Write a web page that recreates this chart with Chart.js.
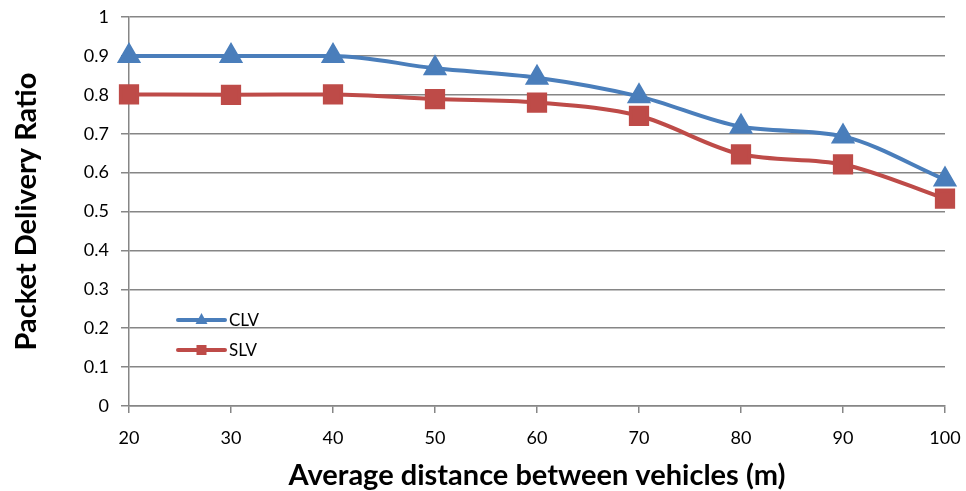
<!DOCTYPE html>
<html>
<head>
<meta charset="utf-8">
<script src="https://cdn.jsdelivr.net/npm/chart.js@4"></script>
<style>
  html, body { margin: 0; padding: 0; background: #fff; }
</style>
</head>
<body>
<canvas id="pdrChart" width="966" height="491"></canvas>
<script>
const distances = ['20', '30', '40', '50', '60', '70', '80', '90', '100'];
const clvValues = [0.90, 0.90, 0.90, 0.868, 0.844, 0.796, 0.718, 0.693, 0.582];
const slvValues = [0.801, 0.800, 0.801, 0.789, 0.780, 0.746, 0.647, 0.621, 0.533];
const seriesNames = ['CLV', 'SLV'];

const FONT = "Lato, 'Open Sans', sans-serif";

// legend drawn inside the plot, like the original
const insideLegend = {
  id: 'insideLegend',
  afterDatasetsDraw(chart) {
    const c = chart.ctx;
    const a = chart.chartArea;
    chart.data.datasets.forEach((ds, i) => {
      const x0 = a.left + 49, x1 = a.left + 96;
      const y = a.top + 303 + i * 30;
      c.save();
      c.strokeStyle = ds.borderColor;
      c.lineWidth = 4;
      c.lineCap = 'round';
      c.beginPath(); c.moveTo(x0, y); c.lineTo(x1, y); c.stroke();
      c.fillStyle = ds.borderColor;
      const mx = (x0 + x1) / 2;
      if (ds.pointStyle === 'triangle') {
        c.beginPath(); c.moveTo(mx, y - 7); c.lineTo(mx + 6, y + 4); c.lineTo(mx - 6, y + 4); c.closePath(); c.fill();
      } else {
        c.fillRect(mx - 5, y - 5, 10, 10);
      }
      c.fillStyle = '#000';
      c.font = '17px ' + FONT;
      c.textBaseline = 'middle';
      c.fillText(ds.label, x1 + 4, y + 1);
      c.restore();
    });
  }
};

new Chart(document.getElementById('pdrChart'), {
  type: 'line',
  data: {
    labels: distances,
    datasets: [{
      label: seriesNames[0],
      data: clvValues,
      borderColor: '#4a7ebb',
      backgroundColor: '#4a7ebb',
      borderWidth: 4,
      pointStyle: 'triangle',
      pointRadius: 10,
      cubicInterpolationMode: 'monotone'
    }, {
      label: seriesNames[1],
      data: slvValues,
      borderColor: '#be4b48',
      backgroundColor: '#be4b48',
      borderWidth: 4,
      pointStyle: 'rect',
      pointRadius: 11.5,
      cubicInterpolationMode: 'monotone'
    }]
  },
  options: {
    responsive: false,
    animation: false,
    layout: { padding: { top: 17, right: 21, left: 5, bottom: 0 } },
    plugins: {
      legend: { display: false },
      tooltip: { enabled: false }
    },
    scales: {
      x: {
        offset: false,
        afterFit: s => { s.height = 85; s.paddingLeft = 0; s.paddingRight = 0; },
        grid: { drawOnChartArea: false, color: '#868686', lineWidth: 1.5, tickLength: 7 },
        border: { color: '#868686', width: 1.5 },
        ticks: { color: '#000', font: { family: FONT, size: 18 }, padding: 14, maxRotation: 0 },
        title: {
          display: true,
          text: 'Average distance between vehicles (m)',
          color: '#000',
          font: { family: FONT, size: 29, weight: 'bold', lineHeight: 1.05 },
          padding: { top: 6, bottom: 0 }
        }
      },
      y: {
        min: 0,
        max: 1,
        afterFit: s => { s.width = 124; s.paddingTop = 0; s.paddingBottom = 0; },
        grid: { color: '#868686', lineWidth: 1.5, tickLength: 8 },
        border: { color: '#868686', width: 1.5 },
        ticks: { stepSize: 0.1, color: '#000', font: { family: FONT, size: 18 }, padding: 12,
          callback: v => Math.round(v * 10) / 10 },
        title: {
          display: true,
          text: 'Packet Delivery Ratio',
          color: '#000',
          font: { family: FONT, size: 29, weight: 'bold' },
          padding: { bottom: 4 }
        }
      }
    }
  },
  plugins: [insideLegend]
});
</script>
</body>
</html>
